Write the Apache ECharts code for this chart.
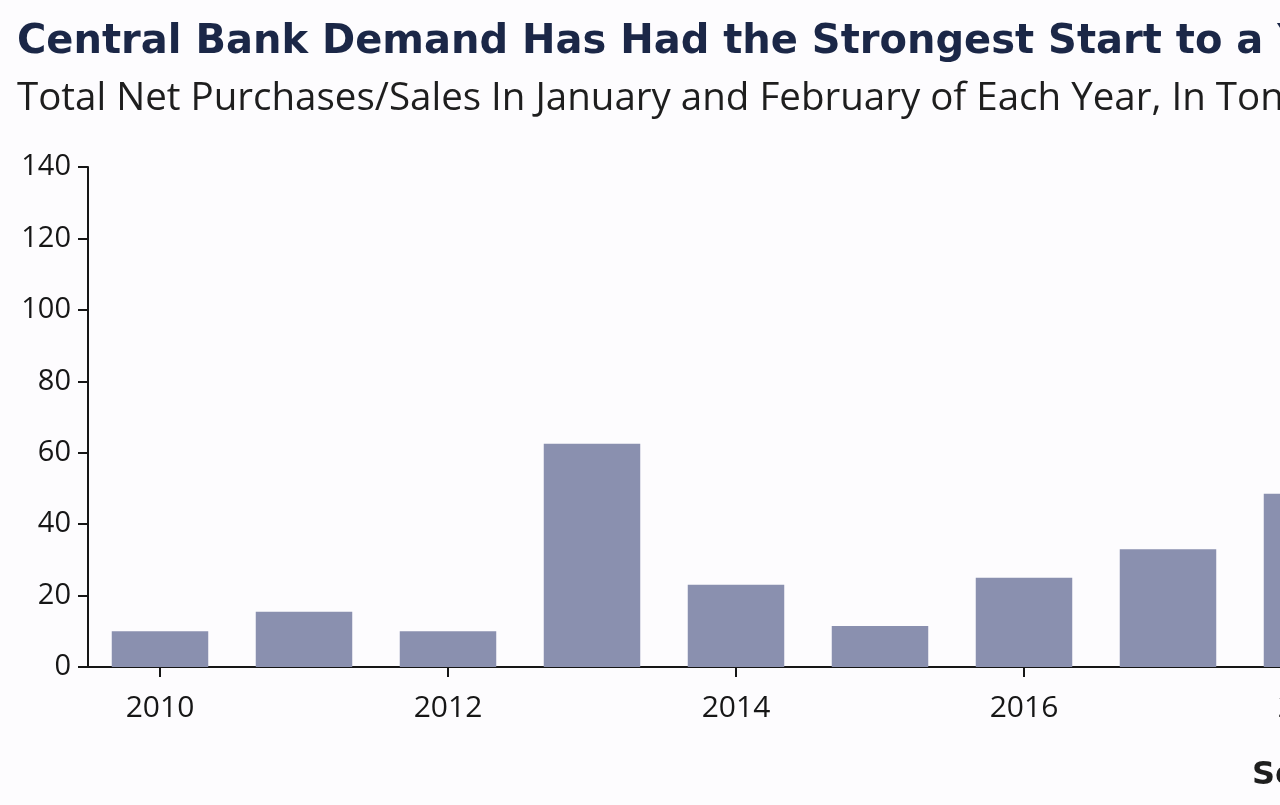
<!DOCTYPE html>
<html>
<head>
<meta charset="utf-8">
<title>Central Bank Demand</title>
<script src="https://cdn.jsdelivr.net/npm/echarts@6/dist/echarts.min.js"></script>
<style>
  html, body { margin: 0; padding: 0; background: #fdfcfe; overflow: hidden; }
  #chart { width: 1400px; height: 805px; }
</style>
</head>
<body>
<div id="chart"></div>
<script>
// Jan+Feb net central bank purchases, tonnes (the source picture is cropped at 2018)
const years = ['2010', '2011', '2012', '2013', '2014', '2015', '2016', '2017', '2018'];
const tonnes = [10, 15.5, 10, 62.5, 23, 11.5, 25, 33, 48.5];
const yTicks = [0, 20, 40, 60, 80, 100, 120, 140];

const titleText = 'Central Bank Demand Has Had the Strongest Start to a Year';
const subtitleText = 'Total Net Purchases/Sales In January and February of Each Year, In Tonnes';
const sourceText = 'Source: World Gold Council';

const ink = '#161616';

const chart = echarts.init(document.getElementById('chart'), null, { renderer: 'canvas' });

chart.setOption({
  backgroundColor: '#fdfcfe',
  animation: false,
  title: {
    text: titleText,
    subtext: subtitleText,
    left: 12,
    top: 18,
    itemGap: 17,
    textStyle: {
      fontFamily: 'DejaVu Sans',
      fontWeight: 'bold',
      fontSize: 40,
      color: '#1b2747',
    },
    subtextStyle: {
      fontFamily: 'Open Sans',
      fontWeight: 400,
      fontSize: 38.5,
      color: '#1e1e1e',
    },
  },
  graphic: [
    {
      type: 'text',
      left: 1252,
      top: 760,
      style: {
        text: sourceText,
        font: 'bold 32px "DejaVu Sans"',
        fill: '#1e1e1e',
      },
    },
  ],
  grid: { left: 88, right: 16, top: 167, bottom: 138, containLabel: false },
  xAxis: {
    type: 'category',
    data: years,
    boundaryGap: true,
    axisLine: { lineStyle: { color: ink, width: 2 } },
    axisTick: {
      show: true,
      interval: 1,
      alignWithLabel: true,
      length: 10,
      lineStyle: { color: ink, width: 2 },
    },
    axisLabel: {
      interval: 1,
      margin: 26,
      fontFamily: 'Open Sans',
      fontSize: 30,
      color: ink,
    },
  },
  yAxis: {
    type: 'value',
    min: yTicks[0],
    max: yTicks[yTicks.length - 1],
    interval: 20,
    axisLine: { show: true, lineStyle: { color: ink, width: 2 } },
    axisTick: { show: true, length: 10, lineStyle: { color: ink, width: 2 } },
    axisLabel: {
      margin: 17,
      fontFamily: 'Open Sans',
      fontSize: 29,
      color: ink,
    },
    splitLine: { show: false },
  },
  series: [
    {
      name: 'Net purchases',
      type: 'bar',
      data: tonnes,
      barCategoryGap: '33%',
      itemStyle: { color: '#8a90af' },
      z: 1,
    },
  ],
});
</script>
</body>
</html>
